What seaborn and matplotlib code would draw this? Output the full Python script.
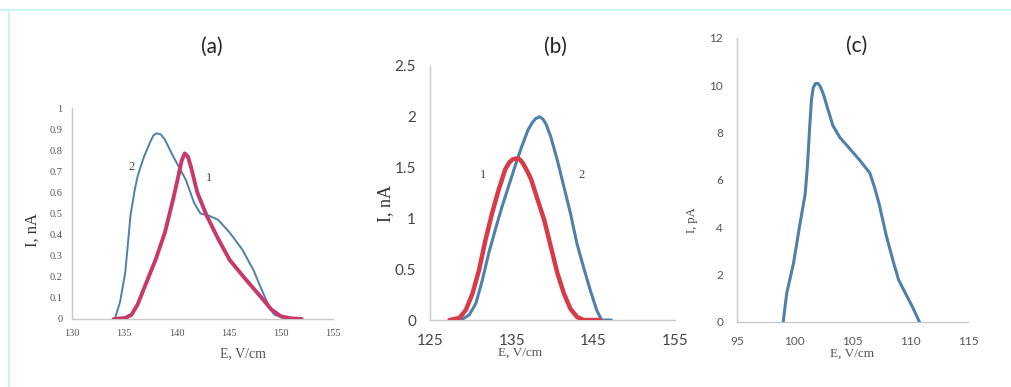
import matplotlib
matplotlib.use("Agg")
import matplotlib.pyplot as plt
from matplotlib.lines import Line2D
import seaborn as sns
import pandas as pd

# panel (a): I, nA vs E, V/cm
a1_x = [134.0, 135.1, 135.7, 136.3, 137.1, 138.0, 138.9, 139.7, 140.2, 140.5,
        140.8, 141.1, 141.4, 142.0, 142.9, 144.0, 145.1, 146.6, 148.0, 149.1,
        150.0, 151.0, 152.0]
a1_y = [0.0, 0.005, 0.02, 0.07, 0.17, 0.28, 0.41, 0.57, 0.68, 0.75,
        0.785, 0.77, 0.72, 0.60, 0.49, 0.38, 0.28, 0.19, 0.11, 0.045,
        0.013, 0.003, 0.0]
a2_x = [134.1, 134.6, 135.1, 135.4, 135.6, 136.0, 136.3, 136.9, 137.5, 137.8,
        138.1, 138.5, 138.9, 139.7, 140.9, 141.7, 142.3, 143.1, 144.0, 145.1,
        146.3, 147.4, 147.9, 148.6, 149.0, 149.4, 150.3, 151.1]
a2_y = [0.0, 0.08, 0.22, 0.38, 0.49, 0.61, 0.68, 0.77, 0.84, 0.87,
        0.88, 0.875, 0.85, 0.77, 0.66, 0.55, 0.50, 0.49, 0.47, 0.41,
        0.33, 0.23, 0.17, 0.09, 0.045, 0.02, 0.005, 0.0]

# panel (b)
b1_x = [127.4, 128.6, 129.4, 130.2, 131.0, 131.8, 132.6, 133.4, 134.2, 134.7,
        135.1, 135.6, 136.0, 136.4, 137.0, 137.4, 138.2, 139.0, 139.8, 140.6,
        141.4, 142.2, 143.0, 143.8, 145.8]
b1_y = [0.0, 0.02, 0.10, 0.26, 0.49, 0.79, 1.05, 1.28, 1.48, 1.55,
        1.58, 1.59, 1.58, 1.54, 1.45, 1.38, 1.18, 0.98, 0.72, 0.46,
        0.26, 0.11, 0.03, 0.0, 0.0]
b2_x = [127.8, 129.0, 129.8, 130.6, 131.4, 132.2, 133.0, 133.8, 134.6, 135.4,
        136.2, 137.0, 137.5, 137.9, 138.4, 138.8, 139.2, 139.8, 140.6, 141.4,
        142.2, 143.0, 143.8, 144.6, 145.4, 146.0, 147.2]
b2_y = [0.0, 0.01, 0.05, 0.16, 0.39, 0.66, 0.89, 1.11, 1.31, 1.51,
        1.70, 1.87, 1.94, 1.98, 2.00, 1.98, 1.93, 1.80, 1.57, 1.31,
        1.05, 0.75, 0.52, 0.30, 0.10, 0.0, 0.0]

# panel (c): I, pA
c_x = [99.0, 99.3, 99.9, 100.4, 100.9, 101.1, 101.3, 101.45, 101.6, 101.8,
       102.0, 102.2, 102.5, 102.8, 103.3, 103.9, 104.8, 105.6, 106.5, 106.9,
       107.3, 107.9, 108.5, 109.0, 109.6, 110.2, 110.8]
c_y = [0.0, 1.2, 2.5, 4.0, 5.4, 6.6, 8.3, 9.4, 9.9, 10.08,
       10.08, 9.96, 9.6, 9.1, 8.3, 7.8, 7.3, 6.85, 6.3, 5.7,
       5.0, 3.7, 2.6, 1.77, 1.2, 0.63, 0.0]

BLUE = "#4f80aa"
RED_A = "#c9386a"
RED_B = "#d83a48"
GRID = "#c8c8c8"
SERIF = "Liberation Serif"
SANS = "Lato"

sns.set_style("white")
plt.rcParams["font.family"] = ["DejaVu Sans"]

fig = plt.figure(figsize=(10.11, 3.87), dpi=100)

ax_a = fig.add_axes([72 / 1011, 1 - 319 / 387, 261 / 1011, 211 / 387])
ax_b = fig.add_axes([430 / 1011, 1 - 320 / 387, 245 / 1011, 254 / 387])
ax_c = fig.add_axes([737 / 1011, 1 - 322 / 387, 231 / 1011, 284 / 387])


def draw(ax, x, y, color, lw):
    df = pd.DataFrame({"E": x, "I": y})
    sns.lineplot(data=df, x="E", y="I", ax=ax, color=color, linewidth=lw,
                 sort=False, estimator=None)


draw(ax_a, a2_x, a2_y, BLUE, 1.4)
draw(ax_a, a1_x, a1_y, RED_A, 2.8)
draw(ax_b, b2_x, b2_y, BLUE, 2.2)
draw(ax_b, b1_x, b1_y, RED_B, 3.2)
draw(ax_c, c_x, c_y, BLUE, 2.2)

ax_a.set_xlim(130, 155)
ax_a.set_ylim(0, 1)
ax_a.set_xticks([130, 135, 140, 145, 150, 155])
ax_a.set_yticks([0, 0.1, 0.2, 0.3, 0.4, 0.5, 0.6, 0.7, 0.8, 0.9, 1])
ax_a.set_yticklabels(["0", "0.1", "0.2", "0.3", "0.4", "0.5", "0.6", "0.7", "0.8", "0.9", "1"])

ax_b.set_xlim(125, 155)
ax_b.set_ylim(0, 2.5)
ax_b.set_xticks([125, 135, 145, 155])
ax_b.set_yticks([0, 0.5, 1, 1.5, 2, 2.5])
ax_b.set_yticklabels(["0", "0.5", "1", "1.5", "2", "2.5"])

ax_c.set_xlim(95, 115)
ax_c.set_ylim(0, 12)
ax_c.set_xticks([95, 100, 105, 110, 115])
ax_c.set_yticks([0, 2, 4, 6, 8, 10, 12])

for ax in (ax_a, ax_b, ax_c):
    ax.patch.set_alpha(0)
    for side in ("top", "right"):
        ax.spines[side].set_visible(False)
    for side in ("left", "bottom"):
        ax.spines[side].set_color(GRID)
        ax.spines[side].set_linewidth(1.0)
    ax.spines["bottom"].set_zorder(0)

ax_a.tick_params(axis="both", length=0, colors="#555555", labelsize=7.5, pad=7)
for lab in ax_a.get_xticklabels() + ax_a.get_yticklabels():
    lab.set_family(SERIF)

ax_b.tick_params(axis="both", length=4, colors="#444444", labelsize=11, pad=6)
ax_b.tick_params(axis="both", color=GRID)
ax_c.tick_params(axis="both", length=4, colors="#555555", labelsize=8.5, pad=6)
ax_c.tick_params(axis="both", color=GRID)
for ax in (ax_b, ax_c):
    for lab in ax.get_xticklabels() + ax.get_yticklabels():
        lab.set_family(SANS)

# axis labels
ax_a.set_xlabel("E, V/cm", family=SERIF, fontsize=10, color="#555555")
ax_a.xaxis.set_label_coords(0.655, -0.135)
ax_a.set_ylabel("I, nA", family=SERIF, fontsize=12, color="#333333")
ax_a.yaxis.set_label_coords(-0.12, 0.42)

ax_b.set_xlabel("E, V/cm", family=SERIF, fontsize=9.5, color="#555555")
ax_b.xaxis.set_label_coords(0.367, -0.105)
ax_b.set_ylabel("I, nA", family=SERIF, fontsize=13, color="#333333")
ax_b.yaxis.set_label_coords(-0.145, 0.46)

ax_c.set_xlabel("E, V/cm", family=SERIF, fontsize=9.5, color="#555555")
ax_c.xaxis.set_label_coords(0.50, -0.09)
ax_c.set_ylabel("I, pA", family=SERIF, fontsize=9, color="#444444")
ax_c.yaxis.set_label_coords(-0.17, 0.36)

# curve numbers
ax_a.text(135.7, 0.72, "2", family=SERIF, fontsize=9, color="#444444", ha="center", va="center")
ax_a.text(143.1, 0.67, "1", family=SERIF, fontsize=9, color="#444444", ha="center", va="center")
ax_b.text(131.5, 1.43, "1", family=SERIF, fontsize=9, color="#444444", ha="center", va="center")
ax_b.text(143.6, 1.43, "2", family=SERIF, fontsize=9, color="#444444", ha="center", va="center")

# panel titles
fig.text(212 / 1011, 1 - 47 / 387, "(a)", family=SANS, fontsize=15, color="#222222", ha="center", va="center")
fig.text(555 / 1011, 1 - 47 / 387, "(b)", family=SANS, fontsize=15, color="#222222", ha="center", va="center")
fig.text(857 / 1011, 1 - 46 / 387, "(c)", family=SANS, fontsize=15, color="#222222", ha="center", va="center")

# thin cyan frame at top and left
fig.add_artist(Line2D([0, 1], [1 - 9.5 / 387, 1 - 9.5 / 387], color="#c4f2f2", lw=1.2, transform=fig.transFigure))
fig.add_artist(Line2D([8.5 / 1011, 8.5 / 1011], [0, 1 - 9.5 / 387], color="#c4f2f2", lw=1.2, transform=fig.transFigure))

fig.savefig("out.png", dpi=100)
